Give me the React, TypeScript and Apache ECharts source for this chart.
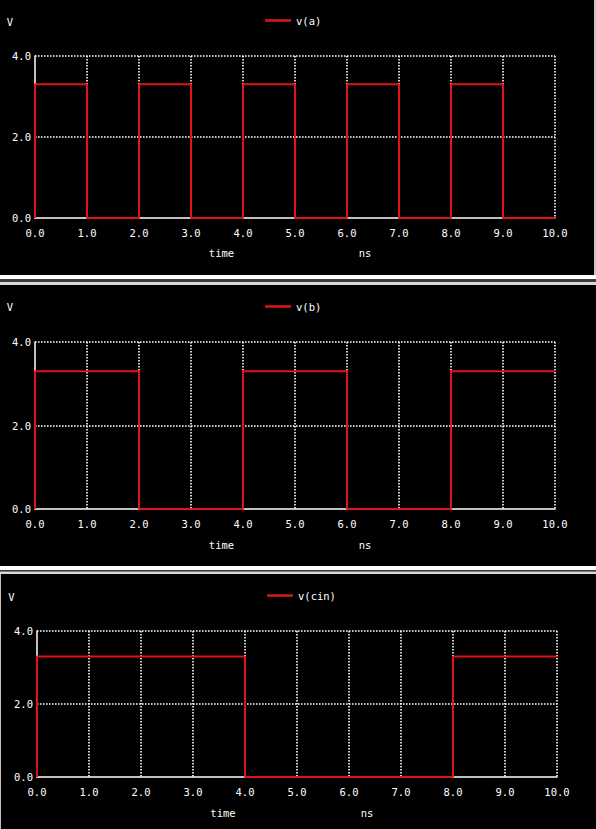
import React, { useEffect, useRef } from "react";
import * as echarts from "echarts";

const seriesNames = ["v(a)", "v(b)", "v(cin)"];
const vA: [number, number][] = [
  [0, 0], [0, 3.3], [1, 3.3], [1, 0], [2, 0], [2, 3.3], [3, 3.3], [3, 0],
  [4, 0], [4, 3.3], [5, 3.3], [5, 0], [6, 0], [6, 3.3], [7, 3.3], [7, 0],
  [8, 0], [8, 3.3], [9, 3.3], [9, 0], [10, 0],
];
const vB: [number, number][] = [
  [0, 0], [0, 3.3], [2, 3.3], [2, 0], [4, 0], [4, 3.3], [6, 3.3], [6, 0],
  [8, 0], [8, 3.3], [10, 3.3],
];
const vCin: [number, number][] = [
  [0, 0], [0, 3.3], [4, 3.3], [4, 0], [8, 0], [8, 3.3], [10, 3.3],
];
const seriesData = [vA, vB, vCin];
const xTickLabels = ["0.0", "1.0", "2.0", "3.0", "4.0", "5.0", "6.0", "7.0", "8.0", "9.0", "10.0"];
const yTickLabels: Record<number, string> = { 0: "0.0", 2: "2.0", 4: "4.0" };

const FONT = '"DejaVu Sans Mono", monospace';
const FS = 10.5;
const RED = "#e01414";

export default function App() {
  const ref = useRef<HTMLDivElement>(null);
  useEffect(() => {
    const chart = echarts.init(ref.current!, undefined, { renderer: "svg" });
    const grids = [
      { left: 35, right: 41, top: 56, height: 162 },
      { left: 35, right: 41, top: 342, height: 167 },
      { left: 37, right: 39, top: 631, height: 146 },
    ];
    const legendPos = [
      { left: 260, top: 10 },
      { left: 260, top: 296 },
      { left: 262, top: 585 },
    ];
    const labelPos = [
      { v: [10, 21.5], t: [221.5, 253], n: [365, 253] },
      { v: [10, 307], t: [221.5, 545], n: [365, 545] },
      { v: [11.5, 596.5], t: [223, 813], n: [367, 813] },
    ];
    const txt = (text: string, x: number, y: number) => ({
      type: "text",
      x,
      y,
      style: { text, fill: "#fff", font: `${FS}px ${FONT}`, align: "center", verticalAlign: "middle" },
    });
    const rect = (x: number, y: number, w: number, h: number, fill: string) => ({
      type: "rect",
      shape: { x, y, width: w, height: h },
      style: { fill },
    });
    const dotted = { color: "#fff", type: [1.6, 1.4], width: 1.6 };
    chart.setOption({
      animation: false,
      backgroundColor: "#000",
      grid: grids,
      legend: seriesNames.map((n, i) => ({
        data: [n],
        left: legendPos[i].left,
        top: legendPos[i].top,
        icon: "rect",
        itemWidth: 26,
        itemHeight: 2.5,
        itemGap: 5,
        textStyle: { color: "#fff", fontFamily: FONT, fontSize: FS },
        selectedMode: false,
      })),
      xAxis: grids.map((_, i) => ({
        type: "value",
        gridIndex: i,
        min: 0,
        max: 10,
        interval: 1,
        axisLine: { show: true, lineStyle: { color: "#fff", width: 1.5 } },
        axisTick: { show: false },
        axisLabel: {
          color: "#fff",
          fontFamily: FONT,
          fontSize: FS,
          margin: 9,
          formatter: (v: number) => xTickLabels[Math.round(v)] ?? "",
        },
        splitLine: { show: true, showMinLine: false, lineStyle: dotted },
      })),
      yAxis: grids.map((_, i) => ({
        type: "value",
        gridIndex: i,
        min: 0,
        max: 4,
        interval: 2,
        axisLine: { show: true, lineStyle: { color: "#fff", width: 1.5 } },
        axisTick: { show: false },
        axisLabel: {
          color: "#fff",
          fontFamily: FONT,
          fontSize: FS,
          margin: 4,
          formatter: (v: number) => yTickLabels[Math.round(v)] ?? "",
        },
        splitLine: { show: true, showMinLine: false, lineStyle: dotted },
      })),
      series: seriesNames.map((n, i) => ({
        name: n,
        type: "line",
        xAxisIndex: i,
        yAxisIndex: i,
        data: seriesData[i],
        showSymbol: false,
        symbol: "none",
        color: RED,
        lineStyle: { color: RED, width: 2 },
        z: 5,
      })),
      graphic: [
        ...labelPos.flatMap((p) => [
          txt("V", p.v[0], p.v[1]),
          txt("time", p.t[0], p.t[1]),
          txt("ns", p.n[0], p.n[1]),
        ]),
        rect(594, 0, 2, 275, "#c4c4c4"),
        rect(0, 275, 596, 4, "#ffffff"),
        rect(0, 279, 596, 3, "#3c3c3c"),
        rect(0, 282, 596, 3, "#d8d8d8"),
        rect(0, 566, 596, 4, "#ffffff"),
        rect(0, 570, 596, 1.5, "#3c3c3c"),
        rect(0, 571.5, 596, 2.5, "#d8d8d8"),
        rect(0, 574, 1, 255, "#bdbdbd"),
      ],
    });
    return () => chart.dispose();
  }, []);
  return (
    <div
      ref={ref}
      style={{ position: "fixed", left: 0, top: 0, width: 596, height: 829, background: "#000" }}
    />
  );
}
